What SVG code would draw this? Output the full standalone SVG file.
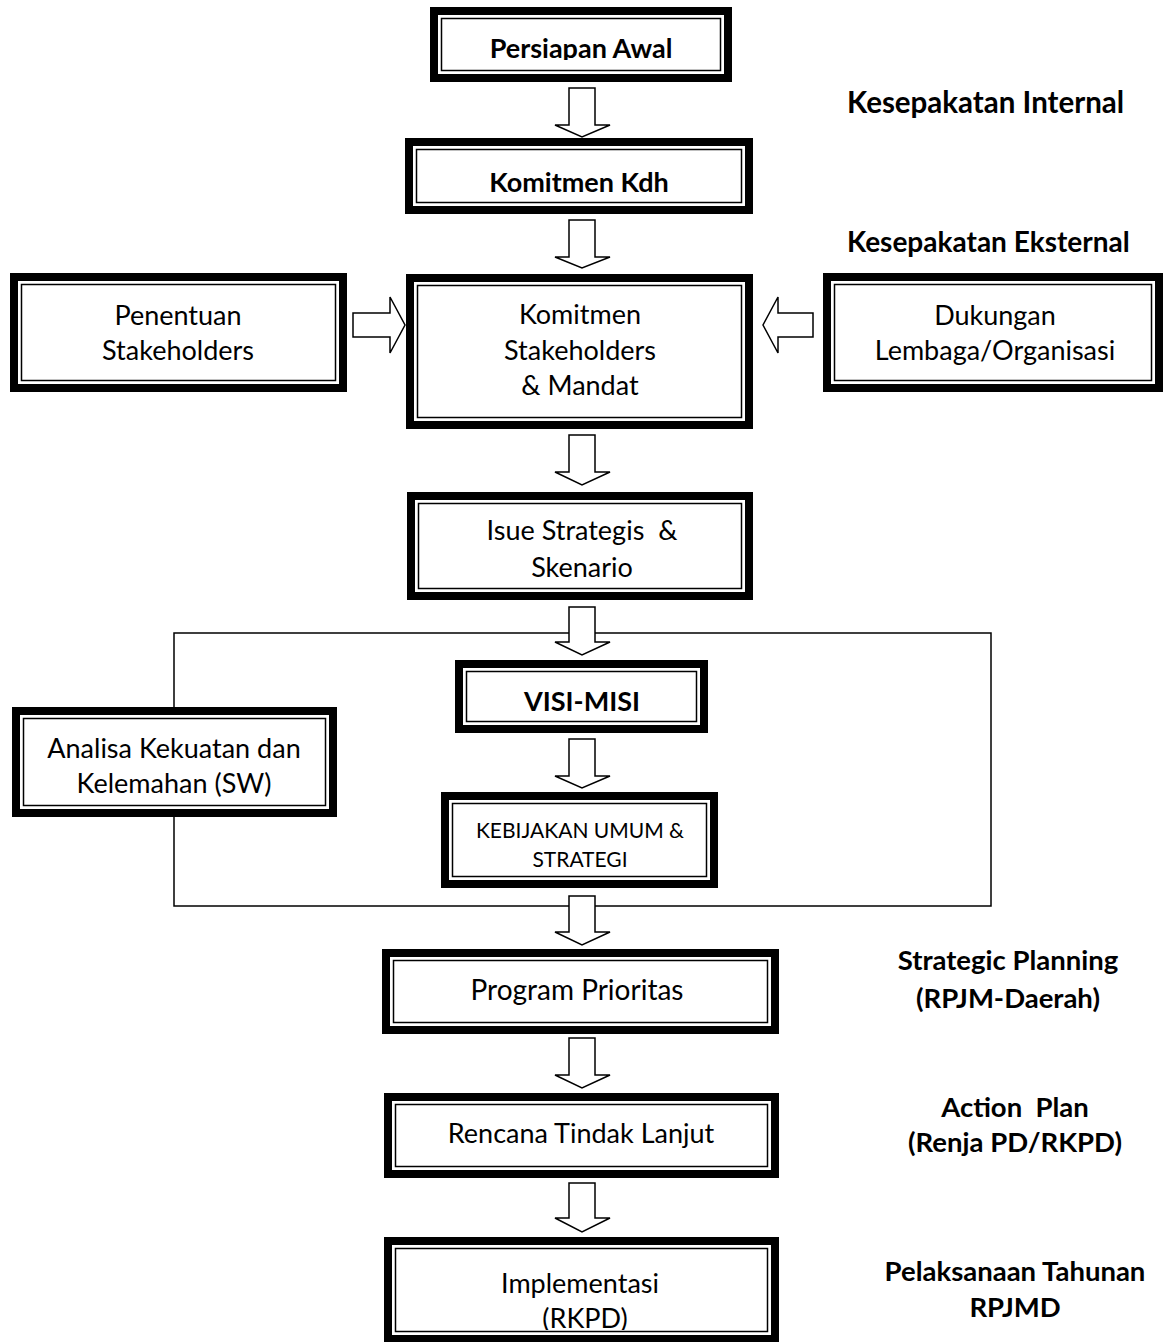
<svg xmlns="http://www.w3.org/2000/svg" width="1165" height="1342" viewBox="0 0 1165 1342">
<style>
.o{fill:#fff;stroke:#000;stroke-width:8}
.i{fill:none;stroke:#000;stroke-width:1.5}
.t{font-family:Lato,"Open Sans","Liberation Sans",sans-serif;font-size:27px;fill:#000;text-anchor:middle}
.b{font-weight:bold}
.s{font-size:21px}
.lbl{font-family:Lato,"Open Sans","Liberation Sans",sans-serif;font-size:27.5px;font-weight:bold;fill:#000}
.big{font-size:29.5px}
.ar{fill:#fff;stroke:#000;stroke-width:1.5;stroke-linejoin:miter}
.ln{fill:none;stroke:#000;stroke-width:1.5}
</style>
<defs>
<clipPath id="c1"><rect x="440" y="17" width="282" height="43"/></clipPath>
<clipPath id="c2"><rect x="394" y="1247" width="375" height="83"/></clipPath>
</defs>
<rect width="1165" height="1342" fill="#fff"/>
<g id="connectors">
<rect class="ln" x="174" y="633" width="817" height="273"/>
<path class="ar" d="M569,88H595V125H610L582,137L555,125H569Z"/>
<path class="ar" d="M569,220H595V257H610L582,268L555,257H569Z"/>
<path class="ar" d="M569,435H595V472H610L582,485L555,472H569Z"/>
<path class="ar" d="M569,607H595V642H610L582,655L555,642H569Z"/>
<path class="ar" d="M569,739H595V776H610L582,788L555,776H569Z"/>
<path class="ar" d="M569,896H595V932H610L582,945L555,932H569Z"/>
<path class="ar" d="M569,1038H595V1075H610L582,1088L555,1075H569Z"/>
<path class="ar" d="M569,1183H595V1218H610L582,1232L555,1218H569Z"/>
<path class="ar" d="M353,313H390V297L405,325L390,353V337H353Z"/>
<path class="ar" d="M813,313H778V297L763,325L778,353V337H813Z"/>
</g>
<g id="n-persiapan">
<rect class="o" x="434" y="11" width="294" height="67"/>
<rect class="i" x="441.5" y="18.5" width="279" height="52"/>
<text class="t b" x="581" y="58" clip-path="url(#c1)">Persiapan Awal</text>
</g>
<g id="n-komitmen-kdh">
<rect class="o" x="409" y="142" width="340" height="68"/>
<rect class="i" x="416.5" y="149.5" width="325" height="53"/>
<text class="t b" x="579" y="192">Komitmen Kdh</text>
</g>
<g id="n-penentuan">
<rect class="o" x="14" y="277" width="329" height="111"/>
<rect class="i" x="21.5" y="284.5" width="314" height="96"/>
<text class="t" x="178" y="325">Penentuan</text>
<text class="t" x="178" y="360">Stakeholders</text>
</g>
<g id="n-komitmen-stakeholders">
<rect class="o" x="410" y="278" width="339" height="147"/>
<rect class="i" x="417.5" y="285.5" width="324" height="132"/>
<text class="t" x="580" y="324">Komitmen</text>
<text class="t" x="580" y="359.5">Stakeholders</text>
<text class="t" x="580" y="395">&amp; Mandat</text>
</g>
<g id="n-dukungan">
<rect class="o" x="827" y="277" width="332" height="111"/>
<rect class="i" x="834.5" y="284.5" width="317" height="96"/>
<text class="t" x="995" y="325">Dukungan</text>
<text class="t" x="995" y="360">Lembaga/Organisasi</text>
</g>
<g id="n-isue">
<rect class="o" x="411" y="496" width="338" height="100"/>
<rect class="i" x="418.5" y="503.5" width="323" height="85"/>
<text class="t" x="582" y="540" xml:space="preserve">Isue Strategis  &amp;</text>
<text class="t" x="582" y="577">Skenario</text>
</g>
<g id="n-visi">
<rect class="o" x="459" y="664" width="245" height="65"/>
<rect class="i" x="466.5" y="671.5" width="230" height="50"/>
<text class="t b" x="582" y="711">VISI-MISI</text>
</g>
<g id="n-analisa">
<rect class="o" x="16" y="711" width="317" height="102"/>
<rect class="i" x="23.5" y="718.5" width="302" height="87"/>
<text class="t" x="174" y="758">Analisa Kekuatan dan</text>
<text class="t" x="174" y="793">Kelemahan (SW)</text>
</g>
<g id="n-kebijakan">
<rect class="o" x="445" y="796" width="269" height="88"/>
<rect class="i" x="452.5" y="803.5" width="254" height="73"/>
<text class="t s" x="580" y="838">KEBIJAKAN UMUM &amp;</text>
<text class="t s" x="580" y="867">STRATEGI</text>
</g>
<g id="n-program">
<rect class="o" x="386" y="953" width="389" height="77"/>
<rect class="i" x="393.5" y="960.5" width="374" height="62"/>
<text class="t" x="577" y="1000" style="font-size:28px">Program Prioritas</text>
</g>
<g id="n-rencana">
<rect class="o" x="388" y="1097" width="387" height="77"/>
<rect class="i" x="395.5" y="1104.5" width="372" height="62"/>
<text class="t" x="581" y="1143">Rencana Tindak Lanjut</text>
</g>
<g id="n-implementasi">
<rect class="o" x="388" y="1241" width="387" height="98"/>
<rect class="i" x="395.5" y="1248.5" width="372" height="83"/>
<g clip-path="url(#c2)">
<text class="t" x="580" y="1293">Implementasi</text>
<text class="t" x="585" y="1328">(RKPD)</text>
</g>
</g>
<g id="labels">
<text class="lbl big" x="847" y="113">Kesepakatan Internal</text>
<text class="lbl" x="847" y="252" style="font-size:28px">Kesepakatan Eksternal</text>
<text class="lbl" x="1008" y="970" text-anchor="middle">Strategic Planning</text>
<text class="lbl" x="1008" y="1008" text-anchor="middle">(RPJM-Daerah)</text>
<text class="lbl" x="1015" y="1117" text-anchor="middle" xml:space="preserve">Action  Plan</text>
<text class="lbl" x="1015" y="1152" text-anchor="middle">(Renja PD/RKPD)</text>
<text class="lbl" x="1015" y="1281" text-anchor="middle">Pelaksanaan Tahunan</text>
<text class="lbl" x="1015" y="1317" text-anchor="middle">RPJMD</text>
</g>
</svg>
